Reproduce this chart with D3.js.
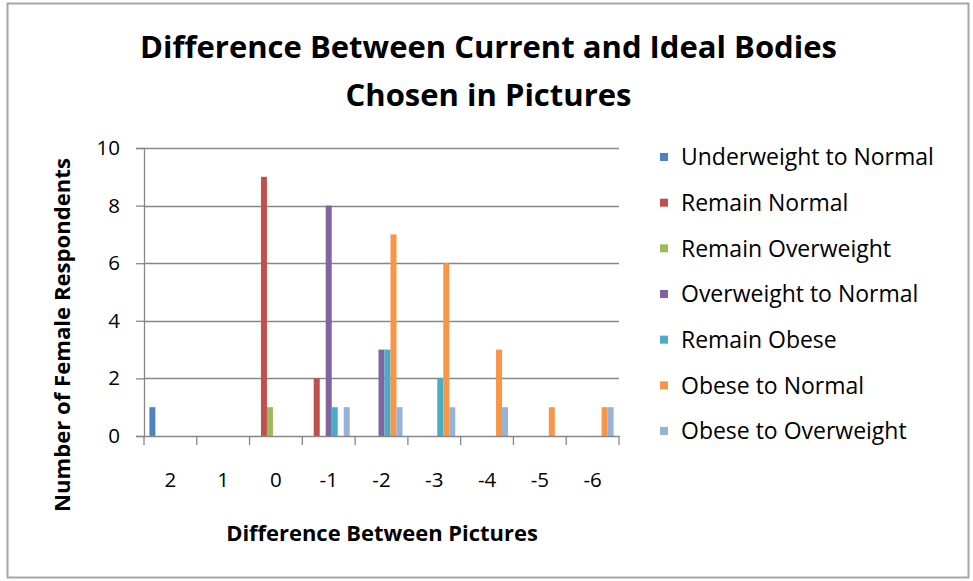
<!DOCTYPE html>
<html>
<head>
<meta charset="utf-8">
<script src="https://cdn.jsdelivr.net/npm/d3@7/dist/d3.min.js"></script>
<style>
  html, body { margin: 0; padding: 0; background: #fff; }
  svg { display: block; }
  text { font-family: "Open Sans", Lato, sans-serif; fill: #000; }
</style>
</head>
<body>
<svg id="chart" width="973" height="581"></svg>
<script>
const categories = ["2", "1", "0", "-1", "-2", "-3", "-4", "-5", "-6"];
const seriesNames = [
  "Underweight to Normal",
  "Remain Normal",
  "Remain Overweight",
  "Overweight to Normal",
  "Remain Obese",
  "Obese to Normal",
  "Obese to Overweight"
];
const underweightToNormal = [1, 0, 0, 0, 0, 0, 0, 0, 0];
const remainNormal        = [0, 0, 9, 2, 0, 0, 0, 0, 0];
const remainOverweight    = [0, 0, 1, 0, 0, 0, 0, 0, 0];
const overweightToNormal  = [0, 0, 0, 8, 3, 0, 0, 0, 0];
const remainObese         = [0, 0, 0, 1, 3, 2, 0, 0, 0];
const obeseToNormal       = [0, 0, 0, 0, 7, 6, 3, 1, 1];
const obeseToOverweight   = [0, 0, 0, 1, 1, 1, 1, 0, 1];
const yTicks = [0, 2, 4, 6, 8, 10];
const seriesColors = ["#4F81BD", "#C0504D", "#9BBB59", "#8064A2", "#4BACC6", "#F79646", "#95B3D7"];
const titleLines = ["Difference Between Current and Ideal Bodies", "Chosen in Pictures"];
const xTitle = "Difference Between Pictures";
const yTitle = "Number of Female Respondents";

const seriesValues = [underweightToNormal, remainNormal, remainOverweight, overweightToNormal,
                      remainObese, obeseToNormal, obeseToOverweight];

const svg = d3.select("#chart");
const plot = { left: 144, right: 619, top: 148, bottom: 436 };

// scale a text selection's font so its rendered width hits a target width
function fitFont(sel, base, target) {
  sel.attr("font-size", base);
  const w = sel.node().getComputedTextLength();
  const size = w > 0 ? base * target / w : base;
  sel.attr("font-size", size);
  return size;
}

// outer border
svg.append("rect")
  .attr("x", 7.5).attr("y", 3.5).attr("width", 961).attr("height", 574)
  .attr("fill", "#fff").attr("stroke", "#a6a6a6").attr("stroke-width", 2);

const x0 = d3.scaleBand().domain(categories).range([plot.left, plot.right]).paddingInner(0).paddingOuter(0);
const x1 = d3.scaleBand().domain(d3.range(seriesNames.length)).range([0, x0.bandwidth()])
  .paddingInner(0).paddingOuter(0.9);
const y = d3.scaleLinear().domain([0, 10]).range([plot.bottom, plot.top]);

const gridColor = "#878787";

// gridlines
svg.append("g").selectAll("line").data(yTicks.filter(d => d > 0)).join("line")
  .attr("x1", plot.left).attr("x2", plot.right)
  .attr("y1", d => Math.round(y(d)) + 0.5).attr("y2", d => Math.round(y(d)) + 0.5)
  .attr("stroke", gridColor).attr("stroke-width", 1.3);

// bars
const barsG = svg.append("g");
seriesValues.forEach((vals, si) => {
  barsG.append("g").selectAll("rect")
    .data(vals.map((v, ci) => ({ v, c: categories[ci] })).filter(d => d.v > 0))
    .join("rect")
    .attr("x", d => x0(d.c) + x1(si))
    .attr("width", x1.bandwidth())
    .attr("y", d => y(d.v))
    .attr("height", d => y(0) - y(d.v))
    .attr("fill", seriesColors[si]);
});

// y axis
const yAxis = svg.append("g").attr("transform", `translate(${plot.left},0)`)
  .call(d3.axisLeft(y).tickValues(yTicks).tickSize(8).tickPadding(16).tickFormat(d3.format("d")));
yAxis.select(".domain").attr("stroke", gridColor).attr("stroke-width", 1.3);
yAxis.selectAll(".tick line").attr("stroke", gridColor).attr("stroke-width", 1.3);
yAxis.selectAll(".tick text").attr("font-size", 20.5).attr("fill", "#222")
  .style("font-family", "'Open Sans', Lato, sans-serif");

// x axis (labels at band centers, tick marks at band boundaries)
const xAxis = svg.append("g").attr("transform", `translate(0,${plot.bottom})`)
  .call(d3.axisBottom(x0).tickSize(0).tickPadding(36));
xAxis.select(".domain").attr("stroke", gridColor).attr("stroke-width", 1.3);
xAxis.selectAll(".tick text").attr("font-size", 20.5).attr("fill", "#222")
  .style("font-family", "'Open Sans', Lato, sans-serif");
const boundaries = categories.map(c => x0(c)).concat([x0(categories[categories.length - 1]) + x0.bandwidth()]);
xAxis.append("g").selectAll("line").data(boundaries).join("line")
  .attr("x1", d => d).attr("x2", d => d).attr("y1", 0).attr("y2", 9)
  .attr("stroke", gridColor).attr("stroke-width", 1.3);

// title
const titleSel = svg.append("g").selectAll("text").data(titleLines).join("text")
  .attr("x", 488.5)
  .attr("y", (d, i) => 58 + i * 48)
  .attr("text-anchor", "middle")
  .attr("font-weight", "bold")
  .text(d => d);
const titleSize = fitFont(d3.select(titleSel.nodes()[0]), 29, 697);
titleSel.attr("font-size", titleSize);

// axis titles
const xt = svg.append("text")
  .attr("x", 382).attr("y", 541)
  .attr("text-anchor", "middle").attr("font-weight", "bold").attr("fill", "#222")
  .text(xTitle);
fitFont(xt, 22, 312);
const yt = svg.append("text")
  .attr("transform", "translate(70,335) rotate(-90)")
  .attr("text-anchor", "middle").attr("font-weight", "bold").attr("fill", "#222")
  .text(yTitle);
fitFont(yt, 22, 354);

// legend
const legend = svg.append("g");
const legY = d3.scalePoint().domain(seriesNames).range([157, 431]);
const items = legend.selectAll("g").data(seriesNames).join("g")
  .attr("transform", d => `translate(660,${legY(d)})`);
items.append("rect").attr("x", 0).attr("y", -4).attr("width", 8).attr("height", 8)
  .attr("fill", (d, i) => seriesColors[i]);
const legTexts = items.append("text").attr("x", 21).attr("y", 0).attr("dy", "0.36em")
  .attr("fill", "#222")
  .text(d => d);
const legSize = fitFont(d3.select(legTexts.nodes()[0]), 22, 253);
legTexts.attr("font-size", legSize);
</script>
</body>
</html>
